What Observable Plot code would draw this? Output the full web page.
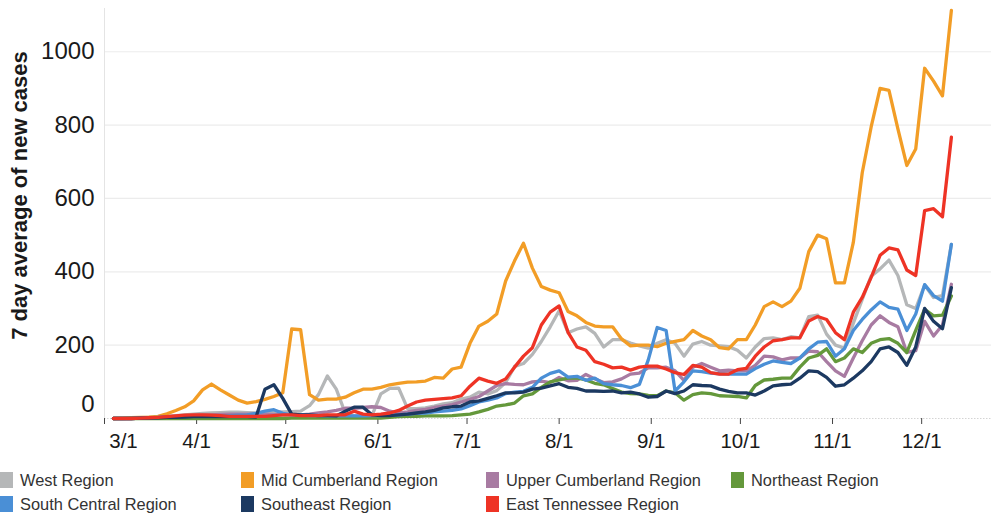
<!DOCTYPE html>
<html>
<head>
<meta charset="utf-8">
<script src="https://cdn.jsdelivr.net/npm/d3@7"></script>
<script src="https://cdn.jsdelivr.net/npm/@observablehq/plot@0.6"></script>
<style>
  html, body { margin: 0; padding: 0; background: #fff; }
  body { width: 991px; height: 513px; overflow: hidden; font-family: "Liberation Sans", Arial, sans-serif; }
  #legend { display: grid; grid-template-columns: 241px 245px 245px 260px; grid-auto-rows: 24px; padding-top: 8px; }
  .item { display: flex; align-items: center; font-size: 16.4px; color: #333; white-space: nowrap; }
  .sw { width: 13px; height: 16px; margin-right: 7px; flex: none; }
</style>
</head>
<body>
<div id="chart"></div>
<div id="legend"></div>
<script>
// Sample dates (2020), every 3 days
const dateLabels = ["3/4","3/7","3/10","3/13","3/16","3/19","3/22","3/25","3/28","3/31",
"4/3","4/6","4/9","4/12","4/15","4/18","4/21","4/24","4/27","4/30",
"5/3","5/6","5/9","5/12","5/15","5/18","5/21","5/24","5/27","5/30",
"6/2","6/5","6/8","6/11","6/14","6/17","6/20","6/23","6/26","6/29",
"7/2","7/5","7/8","7/11","7/14","7/17","7/20","7/23","7/26","7/29",
"8/1","8/4","8/7","8/10","8/13","8/16","8/19","8/22","8/25","8/28",
"8/31","9/3","9/6","9/9","9/12","9/15","9/18","9/21","9/24","9/27",
"9/30","10/3","10/6","10/9","10/12","10/15","10/18","10/21","10/24","10/27",
"10/30","11/2","11/5","11/8","11/11","11/14","11/17","11/20","11/23","11/26",
"11/29","12/2","12/5","12/8","12/11"];

const regionNames = ["West Region","Mid Cumberland Region","Upper Cumberland Region","Northeast Region",
  "South Central Region","Southeast Region","East Tennessee Region"];
const regionColors = ["#b5b7b8","#f29d26","#a87ba2","#64983b","#4a8fd6","#1c3961","#ee3325"];

const westRegion = [0,0,1,2,3,4,6,8,10,12,
14,15,16,17,17,16,15,17,18,18,
19,20,35,65,116,80,15,7,7,8,
67,82,83,27,27,29,34,40,43,53,
58,72,67,76,98,142,150,175,210,250,
294,234,244,250,232,195,215,215,206,198,
192,205,215,205,170,203,210,200,198,196,
186,165,195,218,220,215,223,220,278,282,
230,200,192,260,325,388,408,432,390,310,
300,364,330,335,475];

const midCumberland = [0,1,2,3,4,6,13,22,32,48,
78,94,78,64,50,42,46,52,60,70,
244,242,65,50,53,53,58,70,80,80,
85,92,96,99,100,102,112,110,135,140,
205,252,265,285,375,430,478,410,360,350,
343,292,280,262,252,250,250,217,198,200,
200,196,205,210,215,240,225,215,193,190,
215,215,255,305,318,305,320,355,455,500,
490,370,370,480,670,795,900,895,790,690,
735,955,920,880,1113];

const upperCumberland = [0,0,0,1,2,3,5,6,7,8,
9,10,11,12,12,12,12,12,11,10,
10,10,12,15,18,22,28,28,30,32,
30,20,15,18,22,25,30,34,38,45,
52,60,75,90,95,93,92,100,102,98,
112,103,104,120,108,98,100,108,121,124,
138,138,140,130,104,140,150,140,130,132,
130,130,145,170,168,160,165,165,184,182,
155,130,115,165,212,255,280,262,250,180,
185,265,225,255,366];

const northeast = [0,0,0,0,0,0,0,0,0,0,
0,0,0,0,0,0,0,0,0,0,
1,1,1,1,1,1,1,1,1,1,
1,3,5,6,6,7,7,7,8,10,
12,18,25,34,37,42,62,67,85,100,
105,110,111,105,96,92,82,72,68,67,
63,62,75,70,50,65,70,68,62,61,
60,56,90,105,107,110,110,140,165,172,
190,155,165,190,180,205,215,218,205,180,
240,298,280,282,334];

const southCentral = [0,0,0,1,2,3,4,5,6,7,
8,8,8,8,9,10,14,20,24,14,
10,9,8,8,7,7,7,7,7,8,
8,9,10,12,14,15,18,20,22,26,
35,45,50,56,68,72,74,85,110,123,
130,113,115,104,110,95,92,90,84,93,
160,248,240,75,100,130,128,124,122,121,
121,121,136,148,157,153,150,165,190,208,
210,170,190,240,270,296,318,303,298,240,
285,365,335,320,475];

const southeast = [0,0,0,1,1,2,3,3,4,5,
5,5,5,5,5,5,4,80,92,55,
12,10,10,8,8,7,20,31,31,10,
8,8,10,12,15,18,22,29,32,34,
45,48,55,62,70,70,72,80,83,89,
95,85,82,75,75,74,75,70,72,67,
58,60,75,68,75,92,90,89,80,74,
70,70,64,75,89,92,94,110,130,128,
112,88,92,110,130,155,190,195,180,145,
195,300,265,245,357];

const eastTennessee = [0,0,0,1,2,3,5,7,9,10,
10,9,8,6,6,6,6,6,8,10,
10,8,8,8,10,10,10,20,12,10,
12,15,22,34,45,50,52,54,56,62,
88,110,102,96,108,140,170,193,255,290,
307,235,195,186,155,148,138,140,132,140,
143,143,135,125,120,145,140,125,121,121,
133,137,170,195,212,215,220,220,266,278,
270,234,215,290,330,385,445,465,460,405,
390,567,572,550,767];

const yTickValues = [200, 400, 600, 800, 1000];
const xTickLabels = ["3/1","4/1","5/1","6/1","7/1","8/1","9/1","10/1","11/1","12/1"];
const yTitle = "7 day average of new cases";

const parse = d3.utcParse("%Y/%m/%d");
const dates = dateLabels.map(s => parse("2020/" + s));
const seriesValues = [westRegion, midCumberland, upperCumberland, northeast, southCentral, southeast, eastTennessee];
const data = [];
seriesValues.forEach((vals, k) => {
  vals.forEach((v, i) => data.push({date: dates[i], value: v, region: regionNames[k]}));
});
const xTicks = xTickLabels.map(s => parse("2020/" + s));
const fmt = d => (d.getUTCMonth() + 1) + "/" + d.getUTCDate();
const firstTick = xTicks[0];

const chart = Plot.plot({
  width: 991,
  height: 460,
  marginLeft: 104,
  marginRight: 0,
  marginTop: 8,
  marginBottom: 42,
  style: {fontFamily: "'Liberation Sans', Arial, sans-serif", color: "#1a1a1a", background: "#fff", overflow: "visible"},
  x: {type: "utc", domain: [firstTick, new Date(Date.UTC(2020, 11, 24, 12))]},
  y: {domain: [0, 1118]},
  color: {domain: regionNames, range: regionColors},
  marks: [
    Plot.gridY(yTickValues, {stroke: "#ececec", strokeOpacity: 1, strokeWidth: 1.2}),
    Plot.ruleX([firstTick], {stroke: "#e4e4e4", strokeWidth: 1}),
    Plot.ruleY([0], {stroke: "#d4d4d4", strokeDasharray: "1.5,1.5"}),
    Plot.axisX(xTicks, {tickSize: 6, tickPadding: 9, fontSize: 20.5, stroke: "#444",
      tickFormat: d => (+d === +firstTick ? "" : fmt(d)), label: null}),
    Plot.axisX([firstTick], {tickSize: 0, tickPadding: 15, dx: 19, fontSize: 20.5, tickFormat: fmt, label: null}),
    Plot.axisY(yTickValues, {tickSize: 0, tickPadding: 10, fontSize: 24, tickFormat: d => String(d), label: null}),
    Plot.axisY([0], {tickSize: 0, tickPadding: 10, fontSize: 24, dy: -14, tickFormat: d => String(d), label: null}),
    Plot.text([yTitle], {text: d => d, frameAnchor: "left", dx: -85, dy: -18, rotate: -90,
      textAnchor: "middle", lineAnchor: "middle", fontSize: 22, fontWeight: "bold", fill: "#1a1a1a"}),
    Plot.line(data, {x: "date", y: "value", z: "region", stroke: "region", strokeWidth: 3.3,
      strokeLinejoin: "round", strokeLinecap: "round"})
  ]
});
document.getElementById("chart").appendChild(chart);

const legend = document.getElementById("legend");
regionNames.forEach((name, i) => {
  const item = document.createElement("div");
  item.className = "item";
  const sw = document.createElement("span");
  sw.className = "sw";
  sw.style.background = regionColors[i];
  const label = document.createElement("span");
  label.textContent = name;
  item.appendChild(sw);
  item.appendChild(label);
  legend.appendChild(item);
});
</script>
</body>
</html>
